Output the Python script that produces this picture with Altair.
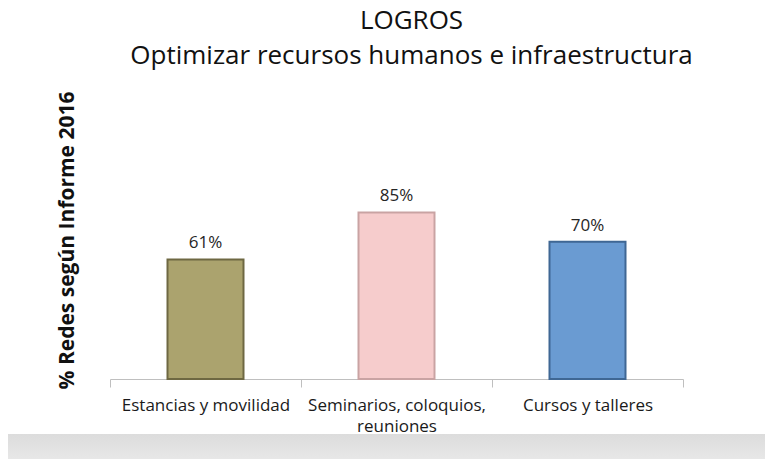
import altair as alt
import pandas as pd

categories = ["Estancias y movilidad", "Seminarios, coloquios, reuniones", "Cursos y talleres"]
values = [61, 85, 70]
labels = ["61%", "85%", "70%"]
fills = ["#aba36e", "#f6cccc", "#6a9bd2"]
strokes = ["#6e6842", "#c9a3a3", "#3f6794"]

df = pd.DataFrame({"cat": categories, "val": values, "lab": labels, "fill": fills, "stroke": strokes})

FONT = "Open Sans"

x = alt.X("cat:N", sort=categories, title=None,
          scale=alt.Scale(paddingInner=0, paddingOuter=0),
          axis=alt.Axis(labelAngle=0, labelFont=FONT, labelFontSize=17, labelColor="#1a1a1a",
                        labelPadding=10, labelLineHeight=21, tickBand="extent", tickSize=8,
                        domainColor="#bfbfbf", tickColor="#bfbfbf", labelLimit=300,
                        labelExpr="datum.label == 'Seminarios, coloquios, reuniones' ? ['Seminarios, coloquios,', 'reuniones'] : datum.label"))
y = alt.Y("val:Q", scale=alt.Scale(domain=[0, 100]),
          axis=alt.Axis(title="% Redes según Informe 2016", labels=False, ticks=False, domain=False,
                        grid=False, titleFont=FONT, titleFontSize=21, titleFontWeight="bold",
                        titleColor="#111111", titleAngle=270, titleAlign="center",
                        titleBaseline="middle", titleX=-43, titleY=57))

base = alt.Chart(df)

band = base.mark_rect(
    color=alt.Gradient(gradient="linear", x1=0, y1=0, x2=0, y2=1,
                       stops=[alt.GradientStop(color="#dcdcdc", offset=0),
                              alt.GradientStop(color="#f2f2f2", offset=1)])
).encode(x=alt.value(-105), x2=alt.value(680), y=alt.value(251), y2=alt.value(300))

bars = base.mark_bar(width=76, strokeWidth=2).encode(
    x=x, y=y,
    fill=alt.Fill("fill:N", scale=None),
    stroke=alt.Stroke("stroke:N", scale=None),
)

text = base.mark_text(dy=-16, font=FONT, fontSize=17, color="#262626").encode(
    x=alt.X("cat:N", sort=categories), y="val:Q", text="lab:N")

chart = alt.layer(band, bars, text).properties(
    width=573, height=196,
    autosize=alt.AutoSizeParams(type="none"),
    padding={"left": 102, "top": 175, "right": 82, "bottom": 80},
    title=alt.Title(["LOGROS", "Optimizar recursos humanos e infraestructura"],
                    font=FONT, fontSize=26, fontWeight="normal", color="#111111",
                    lineHeight=35, anchor="middle", dx=15, offset=22),
).configure_view(stroke=None)

chart.save("out.html", embed_options={"renderer": "svg", "actions": False})
